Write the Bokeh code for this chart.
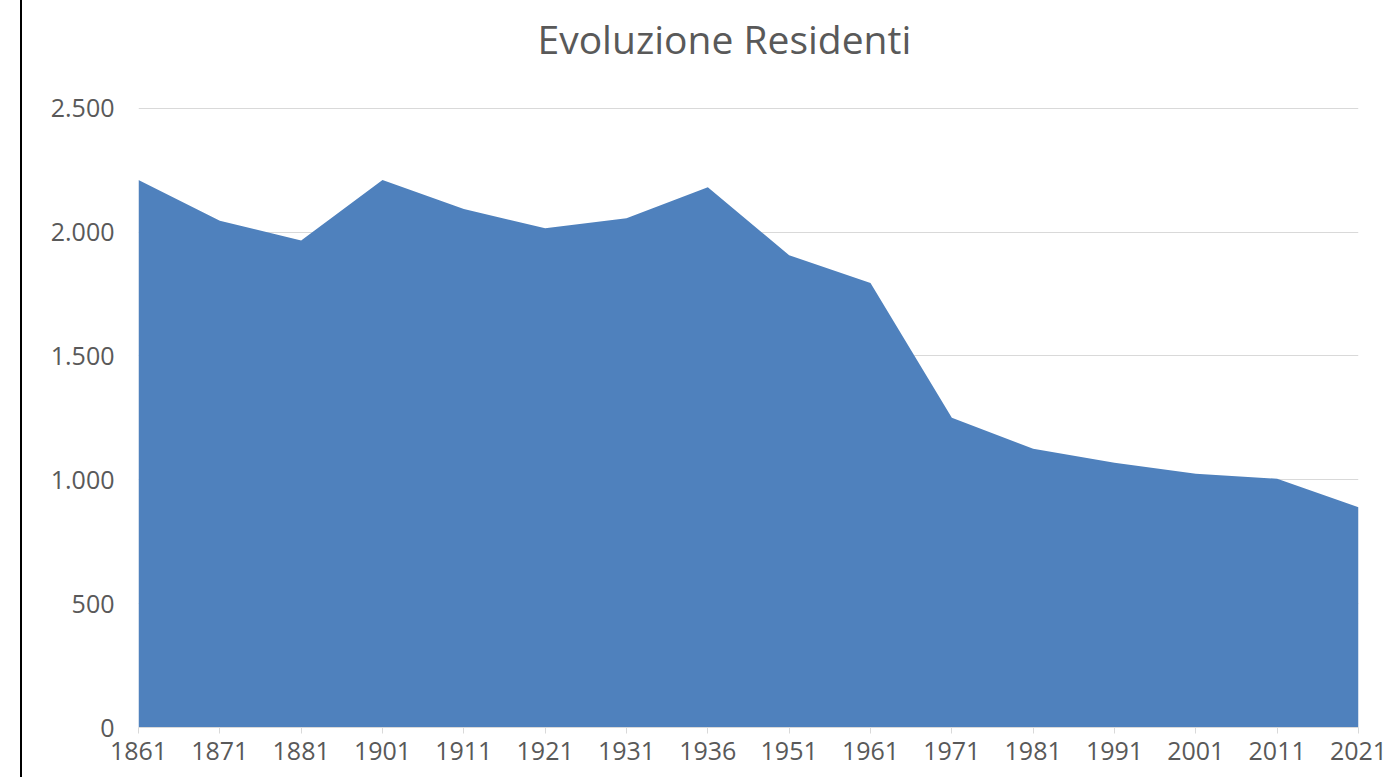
from bokeh.plotting import figure
from bokeh.models import Range1d, FixedTicker, CustomJSTickFormatter, ColumnDataSource, Spacer, Title, LinearAxis
from bokeh.layouts import row
from bokeh.embed import file_html
from bokeh.resources import INLINE

years = ["1861", "1871", "1881", "1901", "1911", "1921", "1931", "1936",
         "1951", "1961", "1971", "1981", "1991", "2001", "2011", "2021"]
residents = [2210, 2046, 1966, 2210, 2093, 2016, 2056, 2181,
             1907, 1794, 1250, 1125, 1069, 1024, 1004, 889]
y_ticks = [0, 500, 1000, 1500, 2000, 2500]
title_text = "Evoluzione Residenti"

xs = list(range(len(years)))
src = ColumnDataSource(dict(x=xs, y=residents, year=years))

p = figure(width=1378, height=777, output_backend="svg", toolbar_location=None,
           x_range=Range1d(0, len(years) - 1), y_range=Range1d(0, 2503),
           min_border_left=116, min_border_right=42, min_border_top=107,
           min_border_bottom=50, background_fill_color="white",
           border_fill_color="white", outline_line_color=None)
p.styles = {"border-left": "2px solid black"}

p.varea(x="x", y1=0, y2="y", source=src, fill_color="#4F81BD", fill_alpha=1.0)

# invisible spacer between title and plot area
gap = LinearAxis(ticker=FixedTicker(ticks=[]), axis_line_color=None,
                 major_tick_line_color=None, minor_tick_line_color=None,
                 major_tick_out=0, major_tick_in=0, major_label_standoff=0,
                 axis_label=" ", axis_label_standoff=39,
                 axis_label_text_font_size="1px", axis_label_text_color="white")
title = Title(text=title_text, align="left", offset=399, standoff=0,
              text_font="Open Sans", text_font_style="normal",
              text_font_size="39px", text_color="#595959")
p.title = None
p.above = [gap, title]

p.xgrid.grid_line_color = None
p.ygrid.grid_line_color = "#D9D9D9"
p.ygrid.grid_line_width = 1
p.ygrid.ticker = FixedTicker(ticks=y_ticks)

xa = p.below[0]
xa.ticker = FixedTicker(ticks=xs)
xa.major_label_overrides = {i: y for i, y in enumerate(years)}
xa.axis_line_color = "#D9D9D9"
xa.major_tick_line_color = "#D9D9D9"
xa.major_tick_out = 6
xa.major_tick_in = 0
xa.minor_tick_line_color = None
xa.major_label_text_font = "Open Sans"
xa.major_label_text_font_size = "25px"
xa.major_label_text_color = "#595959"
xa.major_label_standoff = 8

ya = p.left[0]
ya.ticker = FixedTicker(ticks=y_ticks)
ya.formatter = CustomJSTickFormatter(code="return tick.toFixed(0).replace(/\\B(?=(\\d{3})+(?!\\d))/g, '.');")
ya.axis_line_color = None
ya.major_tick_line_color = None
ya.minor_tick_line_color = None
ya.major_tick_out = 0
ya.major_tick_in = 0
ya.major_label_text_font = "Open Sans"
ya.major_label_text_font_size = "25px"
ya.major_label_text_color = "#595959"
ya.major_label_standoff = 24

layout = row(Spacer(width=20, height=777), p)
open("out.html", "w").write(file_html(layout, INLINE))
